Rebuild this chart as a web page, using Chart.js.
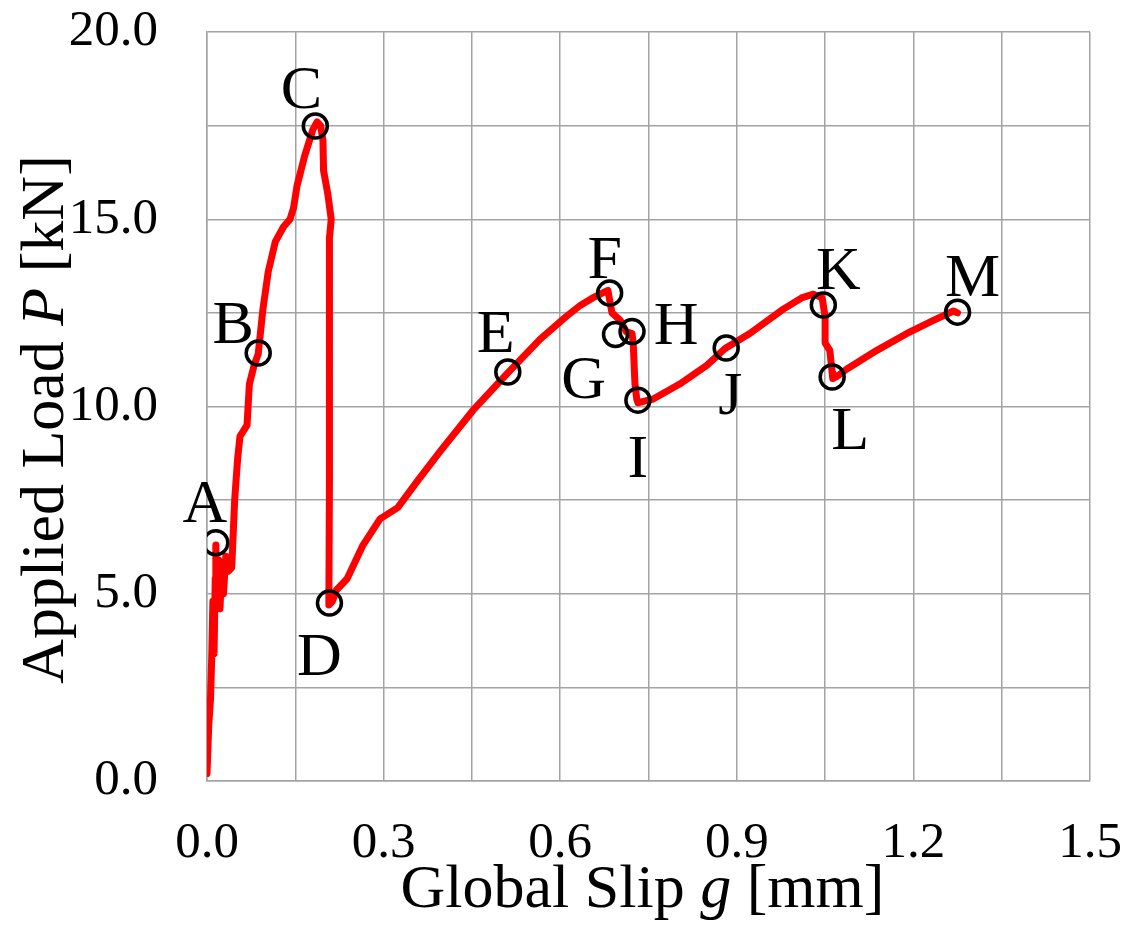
<!DOCTYPE html>
<html lang="en">

<head>
    <meta charset="UTF-8">
    <title>Applied Load vs Global Slip</title>
    <script src="https://cdn.jsdelivr.net/npm/chart.js"></script>
    <style>
        body { margin: 0; background: #fff; }
        .container { width: 1127px; height: 928px; }
    </style>
</head>

<body>
    <div class="container">
        <canvas id="graficaSlip"></canvas>
    </div>

    <script>
        // curve: slip [mm] and load [kN]
        const slipData = [0.000, 0.003, 0.006, 0.008, 0.010, 0.012, 0.014, 0.015, 0.017, 0.020, 0.022, 0.025,
            0.028, 0.032, 0.036, 0.042, 0.047, 0.052, 0.056, 0.060, 0.068, 0.072, 0.080, 0.087, 0.095, 0.104,
            0.116, 0.130, 0.141, 0.147, 0.153, 0.166, 0.180, 0.187, 0.193, 0.197, 0.198, 0.205, 0.211, 0.208,
            0.208, 0.208, 0.207, 0.213, 0.220, 0.238, 0.265, 0.294, 0.324, 0.357, 0.396, 0.452, 0.511, 0.566,
            0.610, 0.634, 0.655, 0.668, 0.681, 0.688, 0.702, 0.712, 0.722, 0.724, 0.727, 0.730, 0.732, 0.745, 0.758,
            0.803, 0.849, 0.880, 0.922, 0.979, 1.010, 1.030, 1.045, 1.050, 1.050, 1.058, 1.062, 1.063, 1.070,
            1.087, 1.138, 1.189, 1.234, 1.268, 1.275];
        const loadData = [0.2, 1.5, 2.2, 3.3, 4.8, 3.4, 5.4, 6.3, 4.8, 5.9, 4.6, 5.6,
            5.0, 6.0, 5.6, 5.7, 7.5, 8.6, 9.2, 9.3, 9.5, 10.6, 11.1, 11.4, 12.6, 13.6,
            14.4, 14.8, 15.0, 15.3, 15.9, 16.7, 17.4, 17.6, 17.5, 17.1, 16.3, 15.7, 15.0, 14.5,
            12.0, 8.0, 4.7, 4.8, 5.1, 5.4, 6.3, 7.0, 7.3, 8.0, 8.8, 9.9, 10.9, 11.8,
            12.4, 12.7, 12.9, 13.0, 13.1, 12.5, 12.3, 12.0, 11.95, 11.7, 10.6, 10.2, 10.1, 10.15, 10.2,
            10.6, 11.1, 11.55, 11.95, 12.6, 12.9, 13.0, 12.9, 12.4, 11.7, 11.5, 10.9, 10.75, 10.8,
            11.0, 11.5, 11.95, 12.3, 12.55, 12.5];

        // marked stages A..M
        const markerNames = ['A', 'B', 'C', 'D', 'E', 'F', 'G', 'H', 'I', 'J', 'K', 'L', 'M'];
        const markerSlip = [0.015, 0.087, 0.184, 0.208, 0.511, 0.684, 0.694, 0.722, 0.732, 0.882, 1.047, 1.062, 1.275];
        const markerLoad = [6.36, 11.43, 17.49, 4.75, 10.92, 13.03, 11.92, 12.0, 10.17, 11.56, 12.71, 10.79, 12.52];

        // where each letter sits relative to its circle (pixels)
        const labelOffsets = [[-11, -42], [-25, -31], [-14, -39], [-10, 51], [-12, -41], [-5, -36], [-32, 42],
            [44, -9], [0, 56], [4, 45], [15, -37], [18, 51], [15, -37]];

        const serif = "'Liberation Serif', 'Times New Roman', serif";
        const gridGray = '#a3a3a3';

        const curvePoints = slipData.map((x, i) => ({ x: x, y: loadData[i] }));
        const markerPoints = markerSlip.map((x, i) => ({ x: x, y: markerLoad[i] }));

        // draws text made of plain/italic pieces, centred on (cx, cy)
        function drawParts(ctx, parts, cx, cy, angle, size) {
            ctx.save();
            ctx.translate(cx, cy);
            ctx.rotate(angle);
            ctx.fillStyle = '#000';
            ctx.textBaseline = 'alphabetic';
            ctx.textAlign = 'left';
            let total = 0;
            parts.forEach(p => {
                ctx.font = (p[1] ? 'italic ' : '') + size + 'px ' + serif;
                total += ctx.measureText(p[0]).width;
            });
            let x = -total / 2;
            parts.forEach(p => {
                ctx.font = (p[1] ? 'italic ' : '') + size + 'px ' + serif;
                ctx.fillText(p[0], x, 0);
                x += ctx.measureText(p[0]).width;
            });
            ctx.restore();
        }

        const letrasPlugin = {
            id: 'letras',
            afterDatasetsDraw(chart) {
                const ctx = chart.ctx;
                const sx = chart.scales.x, sy = chart.scales.y;
                ctx.save();
                ctx.font = '62px ' + serif;
                ctx.fillStyle = '#000';
                ctx.textAlign = 'center';
                ctx.textBaseline = 'alphabetic';
                markerNames.forEach((name, i) => {
                    const px = sx.getPixelForValue(markerSlip[i]) + labelOffsets[i][0];
                    const py = sy.getPixelForValue(markerLoad[i]) + labelOffsets[i][1];
                    ctx.fillText(name, px, py + 21); // baseline = centre + half cap height
                });
                ctx.restore();
            },
            afterDraw(chart) {
                const a = chart.chartArea;
                drawParts(chart.ctx, [['Global Slip ', false], ['g', true], [' [mm]', false]],
                    (a.left + a.right) / 2 - 6, a.bottom + 126, 0, 62);
                drawParts(chart.ctx, [['Applied Load ', false], ['P', true], [' [kN]', false]],
                    63, (a.top + a.bottom) / 2 + 13, -Math.PI / 2, 62);
            }
        };

        const ctx = document.getElementById('graficaSlip').getContext('2d');
        const grafica = new Chart(ctx, {
            type: 'scatter',
            data: {
                datasets: [{
                    label: 'curve',
                    data: curvePoints,
                    showLine: true,
                    borderColor: 'rgb(255, 0, 0)',
                    borderWidth: 7,
                    pointRadius: 0,
                    tension: 0,
                    borderJoinStyle: 'round',
                    borderCapStyle: 'round',
                    order: 2
                }, {
                    label: 'stages',
                    data: markerPoints,
                    showLine: false,
                    pointRadius: 12,
                    pointBorderWidth: 3.5,
                    pointBorderColor: '#000',
                    pointBackgroundColor: 'rgba(0,0,0,0)',
                    order: 1
                }]
            },
            options: {
                responsive: true,
                maintainAspectRatio: false,
                animation: false,
                layout: { padding: { left: 0, right: 37, top: 32, bottom: 0 } },
                plugins: {
                    legend: { display: false },
                    tooltip: { enabled: false }
                },
                scales: {
                    x: {
                        type: 'linear',
                        min: 0,
                        max: 1.5,
                        afterFit(scale) {
                            scale.height = 147;
                            scale.paddingLeft = 0;
                            scale.paddingRight = 0;
                        },
                        grid: { color: gridGray, lineWidth: 1.5, drawTicks: false },
                        border: { color: gridGray, width: 1.5 },
                        ticks: {
                            stepSize: 0.15,
                            autoSkip: false,
                            maxRotation: 0,
                            padding: 32,
                            color: '#000',
                            font: { family: serif, size: 51 },
                            callback: v => Math.abs(v / 0.3 - Math.round(v / 0.3)) < 1e-6 ? v.toFixed(1) : ''
                        }
                    },
                    y: {
                        min: 0,
                        max: 20,
                        afterFit(scale) {
                            scale.width = 207;
                            scale.paddingTop = 0;
                            scale.paddingBottom = 0;
                        },
                        grid: { color: gridGray, lineWidth: 1.5, drawTicks: false },
                        border: { color: gridGray, width: 1.5 },
                        ticks: {
                            stepSize: 2.5,
                            autoSkip: false,
                            padding: 49,
                            color: '#000',
                            font: { family: serif, size: 51 },
                            callback: v => Math.abs(v / 5 - Math.round(v / 5)) < 1e-6 ? v.toFixed(1) : ''
                        }
                    }
                }
            },
            plugins: [letrasPlugin]
        });
    </script>
</body>

</html>
